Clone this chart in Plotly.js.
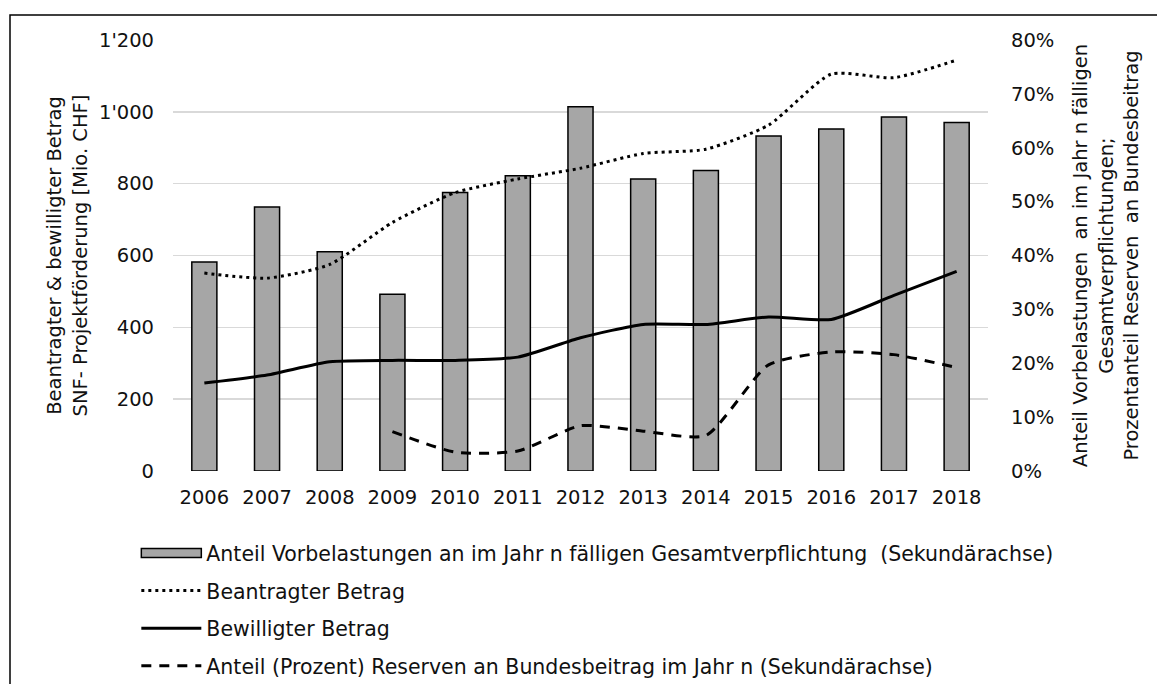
<!DOCTYPE html>
<html>
<head>
<meta charset="utf-8">
<script src="https://cdn.plot.ly/plotly-3.0.1.min.js"></script>
<style>html,body{margin:0;padding:0;background:#fff;}#chart{width:1157px;height:684px;}</style>
</head>
<body>
<div id="chart"></div>
<script>
// ---- data ----
const years = ["2006","2007","2008","2009","2010","2011","2012","2013","2014","2015","2016","2017","2018"];
// Anteil Vorbelastungen an im Jahr n fälligen Gesamtverpflichtung (share, secondary axis)
const vorbelastungen = [0.388, 0.490, 0.407, 0.328, 0.517, 0.548, 0.676, 0.542, 0.558, 0.622, 0.635, 0.657, 0.647];
// Beantragter Betrag (Mio. CHF)
const beantragt = [551, 537, 575, 692, 775, 813, 843, 884, 896, 963, 1105, 1095, 1144];
// Bewilligter Betrag (Mio. CHF)
const bewilligt = [245, 267, 304, 308, 308, 317, 371, 408, 408, 429, 422, 489, 556];
// Anteil (Prozent) Reserven an Bundesbeitrag im Jahr n (share, secondary axis)
const reserven = [null, null, null, 0.073, 0.035, 0.037, 0.084, 0.074, 0.066, 0.197, 0.221, 0.216, 0.192];

const leftTicks = [0, 200, 400, 600, 800, 1000, 1200];
const rightTicks = [0, 0.1, 0.2, 0.3, 0.4, 0.5, 0.6, 0.7, 0.8];

const FONT = "DejaVu Sans, Liberation Sans, Arial, sans-serif";
const TXT = "#111111";
const BAR_NAME = "Anteil Vorbelastungen an im Jahr n fälligen Gesamtverpflichtung  (Sekundärachse)";

const traces = [
  {
    type: "bar", x: years, y: vorbelastungen, yaxis: "y", xaxis: "x",
    name: BAR_NAME,
    width: 0.4,
    marker: {color: "#a6a6a6", line: {color: "#000000", width: 1.5}},
    legendgroup: "g1"
  },
  {
    type: "scatter", mode: "lines", x: years, y: beantragt, yaxis: "y2", xaxis: "x",
    name: "Beantragter Betrag",
    line: {color: "#000000", width: 3, dash: "3px,4px", shape: "spline", smoothing: 0.6},
    legendgroup: "g2"
  },
  {
    type: "scatter", mode: "lines", x: years, y: bewilligt, yaxis: "y2", xaxis: "x",
    name: "Bewilligter Betrag",
    line: {color: "#000000", width: 3, shape: "spline", smoothing: 0.6},
    legendgroup: "g3"
  },
  {
    type: "scatter", mode: "lines", x: years, y: reserven, yaxis: "y", xaxis: "x",
    name: "Anteil (Prozent) Reserven an Bundesbeitrag im Jahr n (Sekundärachse)",
    line: {color: "#000000", width: 3, dash: "10px,8px", shape: "spline", smoothing: 0.6},
    connectgaps: false,
    legendgroup: "g4"
  }
];

const layout = {
  width: 1157, height: 684,
  paper_bgcolor: "#ffffff", plot_bgcolor: "#ffffff",
  margin: {l: 173, r: 169, t: 40, b: 213, pad: 0, autoexpand: false},
  separators: ".'",
  font: {family: FONT, size: 19, color: TXT},
  showlegend: true,
  legend: {
    orientation: "v", x: -0.045, xanchor: "left", y: -0.144, yanchor: "top",
    font: {family: FONT, size: 20.5, color: TXT},
    itemwidth: 60, tracegroupgap: 8, traceorder: "grouped",
    bgcolor: "rgba(0,0,0,0)"
  },
  xaxis: {
    type: "category", range: [-0.5, 12.5],
    showgrid: false, zeroline: false, showline: false, ticks: "",
    tickfont: {family: FONT, size: 19.5, color: TXT},
    ticklabelstandoff: 12, fixedrange: true
  },
  yaxis: {
    side: "right", range: [0, 0.8], tickvals: rightTicks, tickformat: ".0%",
    showgrid: false, zeroline: false, showline: false, ticks: "",
    tickfont: {family: FONT, size: 19.5, color: TXT},
    ticklabelstandoff: 22,
    title: {
      text: "Anteil Vorbelastungen  an im Jahr n fälligen<br>Gesamtverpflichtungen;<br>Prozentanteil Reserven  an Bundesbeitrag",
      font: {family: FONT, size: 19.5, color: TXT}, standoff: 20
    },
    automargin: false, fixedrange: true
  },
  yaxis2: {
    overlaying: "y", side: "left", range: [0, 1200], tickvals: leftTicks, tickformat: ",d",
    showgrid: true, gridcolor: "#d9d9d9", gridwidth: 1.5,
    zeroline: false, showline: false, ticks: "",
    tickfont: {family: FONT, size: 19.5, color: TXT},
    ticklabelstandoff: 18,
    title: {
      text: "Beantragter & bewilligter Betrag<br>SNF- Projektförderung [Mio. CHF]",
      font: {family: FONT, size: 19.5, color: TXT}, standoff: 6
    },
    automargin: false, fixedrange: true
  },
  shapes: [
    {type: "rect", xref: "paper", yref: "paper",
     x0: -0.2, x1: 1.4, y0: -1.0, y1: 1.058,
     line: {color: "#000000", width: 1.5}, fillcolor: "rgba(0,0,0,0)", layer: "below"}
  ]
};

function widenBarKey(gd) {
  // draw the bar legend key as a wide rectangle, like the original chart
  const groups = gd.querySelectorAll("g.legend g.traces");
  groups.forEach(function (g) {
    const t = g.querySelector("text.legendtext");
    if (!t || t.textContent.indexOf("Vorbelastungen") < 0) return;
    g.querySelectorAll("g.legendpoints path").forEach(function (p) {
      p.setAttribute("d", "M5,-4.5h60v9h-60z");
      p.setAttribute("transform", "translate(0,0)");
    });
  });
}

const gd = document.getElementById("chart");
const prom = Plotly.newPlot(gd, traces, layout, {displayModeBar: false, staticPlot: true});
widenBarKey(gd);
prom.then(function () {
  widenBarKey(gd);
  gd.on("plotly_afterplot", function () { widenBarKey(gd); });
  setTimeout(function () { widenBarKey(gd); }, 30);
});
</script>
</body>
</html>
